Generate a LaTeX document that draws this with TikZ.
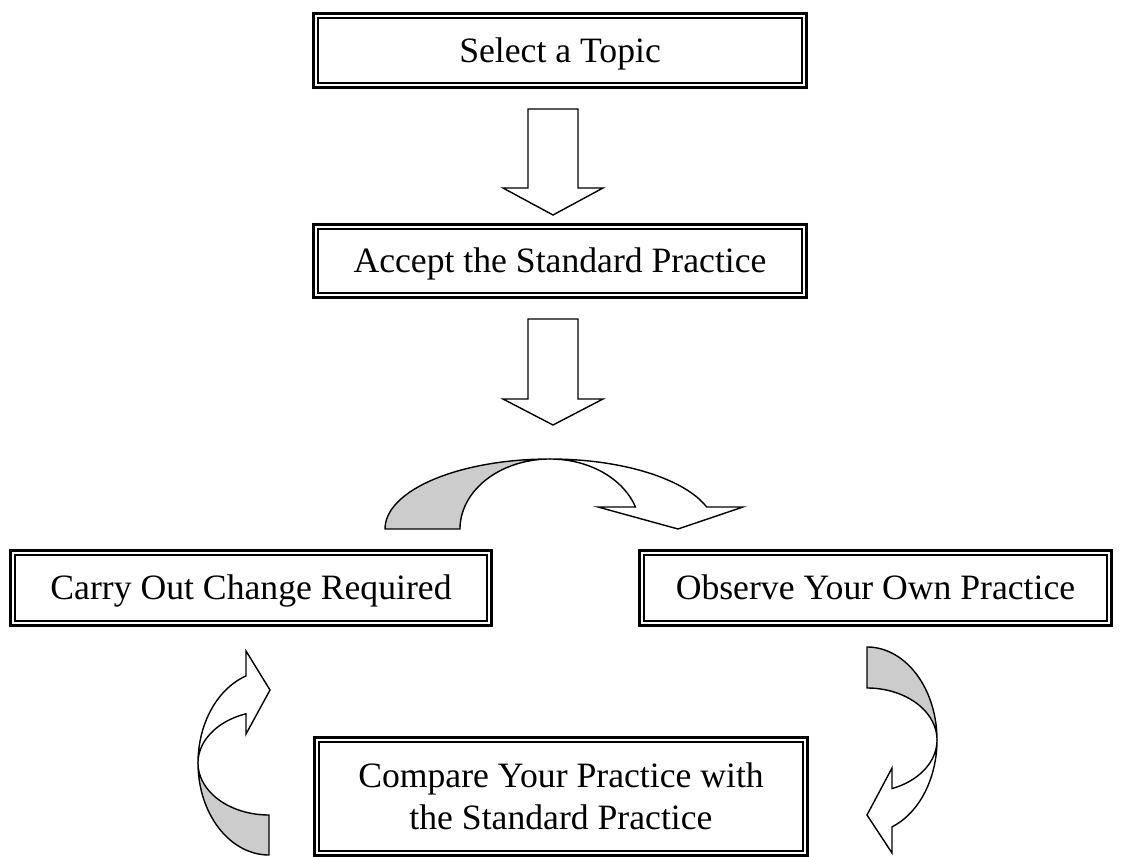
\documentclass[tikz,border=0pt]{standalone}
\usepackage{fontspec}
\setmainfont{Liberation Serif}
\definecolor{shade}{gray}{0.8}
\begin{document}
\begin{tikzpicture}[x=0.02cm,y=-0.02cm,
  tbox/.style={draw, line width=1.88pt, outer sep=0pt, inner sep=0pt, align=center,
    font=\fontsize{20.3}{23.9}\selectfont},
  oneline/.style={text height=17.4pt, text depth=4pt},
  inner/.style={line width=0.97pt},
  blk/.style={draw, line width=0.8pt, line join=miter, fill=white},
  bak/.style={draw, line width=0.8pt, line join=miter, fill=shade}]
\useasboundingbox (0,0) rectangle (1135,857);

% boxes
\node[tbox, oneline, minimum width=9.854cm, minimum height=1.474cm] (sel) at (560,50.5) {Select a Topic};
\node[tbox, oneline, minimum width=9.854cm, minimum height=1.454cm] (acc) at (560,261) {Accept the Standard Practice};
\node[tbox, oneline, minimum width=9.614cm, minimum height=1.494cm] (car) at (251,588) {Carry Out Change Required};
\node[tbox, oneline, minimum width=9.434cm, minimum height=1.494cm] (obs) at (875.5,588) {Observe Your Own Practice};
\node[tbox, minimum width=9.854cm, minimum height=2.354cm] (cmp) at (561,796.5) {Compare Your Practice with\\the Standard Practice};
\foreach \n in {sel,acc,car,obs,cmp}
  \draw[inner] ([shift={(0.091cm,-0.091cm)}]\n.north west) rectangle ([shift={(-0.091cm,0.091cm)}]\n.south east);

% straight block arrows
\draw[blk] (528,109) -- (578,109) -- (578,188) -- (603,188) -- (553,215) -- (503,188) -- (528,188) -- cycle;
\draw[blk] (528,319) -- (578,319) -- (578,399) -- (603,399) -- (553,425) -- (503,399) -- (528,399) -- cycle;

% top curved arrow (accept -> observe)
\draw[bak] plot[domain=180:270, samples=50, variable=\t] ({550+165*cos(\t)},{529+70*sin(\t)})
  -- plot[domain=270:180, samples=50, variable=\t] ({550+90*cos(\t)},{529+70*sin(\t)}) -- cycle;
\draw[blk] plot[domain=270:341.7, samples=50, variable=\t] ({550+165*cos(\t)},{529+70*sin(\t)})
  -- (743,507) -- (678,529) -- (598,507)
  -- plot[domain=341.7:270, samples=50, variable=\t] ({550+90*cos(\t)},{529+70*sin(\t)}) -- cycle;

% right curved arrow (observe -> compare)
\draw[bak] plot[domain=-90:0, samples=50, variable=\t] ({867+70*cos(\t)},{740+93*sin(\t)})
  -- plot[domain=0:-90, samples=50, variable=\t] ({867+70*cos(\t)},{740+52*sin(\t)}) -- cycle;
\draw[blk] plot[domain=0:69.1, samples=50, variable=\t] ({867+70*cos(\t)},{740+93*sin(\t)})
  -- (892,853) -- (867,815) -- (892,768)
  -- plot[domain=69.1:0, samples=50, variable=\t] ({867+70*cos(\t)},{740+52*sin(\t)}) -- cycle;

% left curved arrow (compare -> carry out)
\draw[bak] plot[domain=90:180, samples=50, variable=\t] ({269+71*cos(\t)},{763+92*sin(\t)})
  -- plot[domain=180:90, samples=50, variable=\t] ({269+71*cos(\t)},{763+52*sin(\t)}) -- cycle;
\draw[blk] plot[domain=180:251.1, samples=50, variable=\t] ({269+71*cos(\t)},{763+92*sin(\t)})
  -- (246,651) -- (270,690) -- (246,734)
  -- plot[domain=251.1:180, samples=50, variable=\t] ({269+71*cos(\t)},{763+52*sin(\t)}) -- cycle;
\end{tikzpicture}
\end{document}
